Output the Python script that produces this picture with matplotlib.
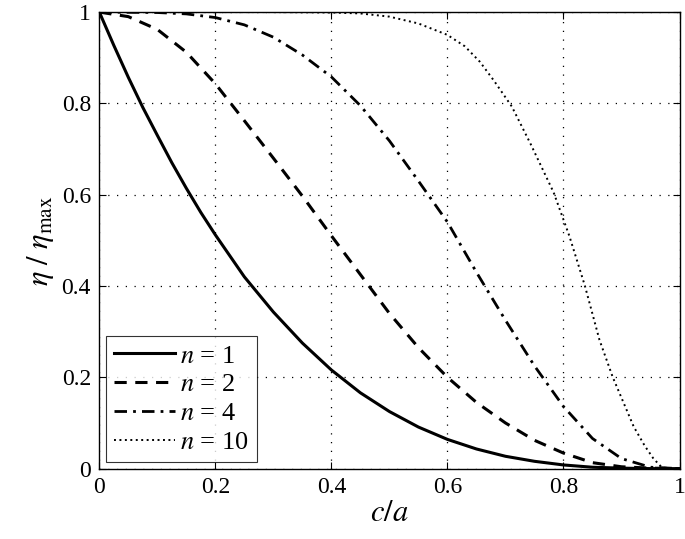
import matplotlib
matplotlib.use("Agg")
import matplotlib.pyplot as plt

# values
x_n1 = [0, 0.025, 0.05, 0.075, 0.1, 0.125, 0.15, 0.175, 0.2, 0.25, 0.3, 0.35, 0.4,
        0.45, 0.5, 0.55, 0.6, 0.65, 0.7, 0.75, 0.8, 0.85, 0.9, 0.95, 1.0]
y_n1 = [1.0, 0.927, 0.857, 0.791, 0.73, 0.67, 0.614, 0.561, 0.512, 0.42, 0.343, 0.275,
        0.216, 0.166, 0.125, 0.091, 0.064, 0.043, 0.027, 0.016, 0.008, 0.003, 0.001,
        0.0, 0.0]

x_n2 = [0, 0.05, 0.1, 0.15, 0.2, 0.25, 0.3, 0.35, 0.4, 0.45, 0.5,
        0.55, 0.6, 0.65, 0.7, 0.75, 0.8, 0.85, 0.9, 0.95, 1.0]
y_n2 = [1.0, 0.99, 0.962, 0.912, 0.843, 0.762, 0.68, 0.597, 0.51, 0.425, 0.34,
        0.265, 0.2, 0.145, 0.1, 0.062, 0.034, 0.013, 0.004, 0.001, 0.0]

x_n4 = [0, 0.1, 0.15, 0.2, 0.25, 0.3, 0.35, 0.4, 0.45, 0.5, 0.55,
        0.6, 0.65, 0.7, 0.75, 0.8, 0.85, 0.9, 0.95, 1.0]
y_n4 = [1.0, 0.999, 0.996, 0.988, 0.972, 0.945, 0.906, 0.858, 0.795, 0.718, 0.63,
        0.54, 0.43, 0.325, 0.225, 0.136, 0.066, 0.022, 0.003, 0.0]

x_n10 = [0, 0.3, 0.4, 0.45, 0.5, 0.55, 0.6, 0.63, 0.656, 0.68, 0.711, 0.743,
         0.783, 0.81, 0.837, 0.862, 0.885, 0.9, 0.921, 0.94, 0.955, 0.97, 1.0]
y_n10 = [1.0, 1.0, 0.999, 0.997, 0.99, 0.975, 0.95, 0.925, 0.891, 0.85, 0.793, 0.712,
         0.605, 0.51, 0.4, 0.282, 0.2, 0.155, 0.092, 0.05, 0.022, 0.002, 0.0]

labels = ["$n$ = 1", "$n$ = 2", "$n$ = 4", "$n$ = 10"]

plt.rcParams["font.family"] = "Liberation Serif"
plt.rcParams["mathtext.fontset"] = "stix"

fig = plt.figure(figsize=(6.85, 5.39), dpi=100)
ax = fig.add_axes([0.145, 0.1306, 0.847, 0.847])

ax.plot(x_n1, y_n1, color="black", lw=2.2, label=labels[0])
ax.plot(x_n2, y_n2, color="black", lw=2.2, dashes=(4, 2.8), label=labels[1])
ax.plot(x_n4, y_n4, color="black", lw=2.0, dashes=(4.5, 2.2, 1, 2.2), label=labels[2])
ax.plot(x_n10, y_n10, color="black", lw=1.4, dashes=(1, 1.8), label=labels[3])

ax.set_xlim(0, 1)
ax.set_ylim(0, 1)
ax.set_xticks([0, 0.2, 0.4, 0.6, 0.8, 1])
ax.set_xticklabels(["0", "0.2", "0.4", "0.6", "0.8", "1"])
ax.set_yticks([0, 0.2, 0.4, 0.6, 0.8, 1])
ax.set_yticklabels(["0", "0.2", "0.4", "0.6", "0.8", "1"])
ax.tick_params(direction="in", length=5, width=0.8, labelsize=17,
               top=True, right=True, pad=6)
ax.grid(True, color="black", linestyle=(0, (1, 6)), linewidth=0.9)
for s in ax.spines.values():
    s.set_linewidth(1.0)

ax.set_xlabel(r"$c/a$", fontsize=22, labelpad=1)
ax.set_ylabel(r"$\eta\ /\ \eta_{\rm max}$", fontsize=22, labelpad=4)

leg = ax.legend(loc="lower left", bbox_to_anchor=(0.012, 0.015), fontsize=19,
                handlelength=2.3, handletextpad=0.2, labelspacing=0.2,
                borderpad=0.3, frameon=True, fancybox=False, borderaxespad=0)
leg.get_frame().set_edgecolor("black")
leg.get_frame().set_linewidth(0.8)

fig.savefig("out.png", dpi=100)
